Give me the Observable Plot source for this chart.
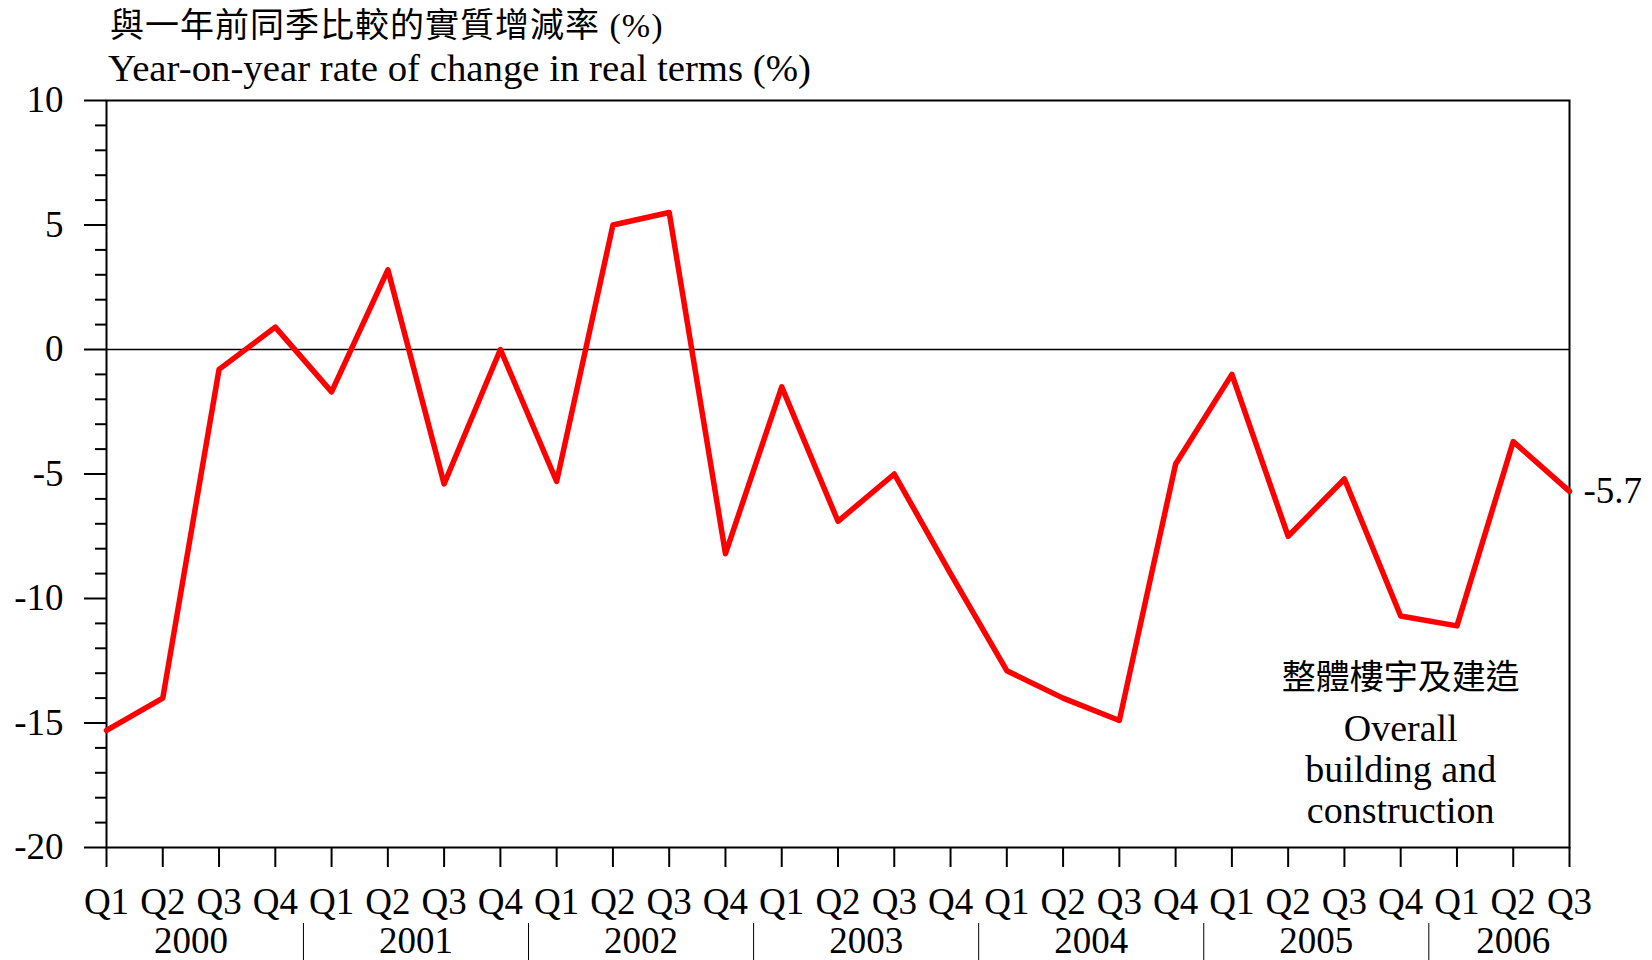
<!DOCTYPE html>
<html>
<head>
<meta charset="utf-8">
<script src="https://cdn.jsdelivr.net/npm/d3@7"></script>
<script src="https://cdn.jsdelivr.net/npm/@observablehq/plot@0.6"></script>
<style>
  html, body { margin: 0; padding: 0; background: #fff; }
  body { width: 1652px; height: 960px; overflow: hidden; font-family: "Liberation Serif", "Noto Sans CJK TC", serif; }
  #title { position: relative; height: 80px; width: 1652px; z-index: 2; }
  #title .zh { position: absolute; left: 110px; top: 6px; font-size: 34px; line-height: 40px; letter-spacing: 1px; font-family: "Liberation Serif", "Noto Sans CJK TC", serif; color: #000; white-space: nowrap; }
  #title .en { position: absolute; left: 108px; top: 46px; font-size: 38.8px; line-height: 44px; color: #000; white-space: nowrap; }
  #chart { position: relative; z-index: 1; }
</style>
</head>
<body>
<div id="title">
  <div class="zh">與一年前同季比較的實質增減率 (%)</div>
  <div class="en">Year-on-year rate of change in real terms (%)</div>
</div>
<div id="chart"></div>
<script>
const quarterLabels = ["Q1","Q2","Q3","Q4","Q1","Q2","Q3","Q4","Q1","Q2","Q3","Q4","Q1","Q2","Q3","Q4","Q1","Q2","Q3","Q4","Q1","Q2","Q3","Q4","Q1","Q2","Q3"];
const years = ["2000","2001","2002","2003","2004","2005","2006"];
const values = [-15.3, -14.0, -0.8, 0.9, -1.7, 3.2, -5.4, 0.0, -5.3, 5.0, 5.5, -8.2, -1.5, -6.9, -5.0, -9.0, -12.9, -14.0, -14.9, -4.6, -1.0, -7.5, -5.2, -10.7, -11.1, -3.7, -5.7];
const majorTicks = [-20, -15, -10, -5, 0, 5, 10];
const minorTicks = d3.range(-20, 11, 1).filter(d => d % 5 !== 0);
const seriesNameZh = "整體樓宇及建造";
const seriesNameEn = "Overall\nbuilding and\nconstruction";
const lastLabel = "-5.7";

const data = values.map((v, i) => ({i, v, q: quarterLabels[i]}));
const yearCenters = years.map((y, k) => {
  const idx = d3.range(quarterLabels.length).filter(i => Math.floor(i / 4) === k);
  return {year: y, x: d3.mean(idx)};
});
const separators = d3.range(1, years.length).map(k => k * 4 - 0.5);
const n = values.length;

const font = "'Liberation Serif', 'Noto Sans CJK TC', serif";

const chart = Plot.plot({
  width: 1652,
  height: 880,
  marginTop: 20,
  marginLeft: 106,
  marginRight: 83,
  marginBottom: 113,
  style: {background: "transparent", overflow: "visible", fontFamily: font, color: "#000"},
  x: {domain: [0, n - 1], axis: null},
  y: {domain: [-20, 10], axis: null},
  marks: [
    Plot.ruleY([0], {stroke: "#000", strokeWidth: 1.5}),
    Plot.axisY({ticks: minorTicks, tickSize: 11, tickFormat: () => "", label: null, strokeWidth: 2, stroke: "#000"}),
    Plot.axisY({ticks: majorTicks, tickSize: 22, tickPadding: 21, tickFormat: d => String(d), label: null, fontSize: 37, strokeWidth: 2, stroke: "#000", fill: "#000"}),
    Plot.axisX({ticks: d3.range(n), tickSize: 20, tickPadding: 20, tickFormat: i => quarterLabels[i], label: null, fontSize: 37, strokeWidth: 2, stroke: "#000", fill: "#000"}),
    Plot.ruleX(separators, {x: d => d, y1: -20, y2: -20, insetTop: 76, insetBottom: -113, stroke: "#000", strokeWidth: 1}),
    Plot.text(yearCenters, {x: "x", y: () => -20, text: "year", dy: 94, fontSize: 37, fill: "#000"}),
    Plot.frame({stroke: "#000", strokeWidth: 2}),
    Plot.line(data, {x: "i", y: "v", stroke: "#ff0000", strokeWidth: 5.5, strokeLinejoin: "round"}),
    Plot.text([data[n - 1]], {x: "i", y: "v", text: () => lastLabel, textAnchor: "start", dx: 14, fontSize: 37, fill: "#000"}),
    Plot.text([seriesNameZh], {x: () => 23, y: () => -13.2, text: d => d, fontSize: 34, fill: "#000"}),
    Plot.text([seriesNameEn], {x: () => 23, y: () => -16.85, text: d => d, fontSize: 38, lineHeight: 1.08, fill: "#000"})
  ]
});
document.getElementById("chart").appendChild(chart);
</script>
</body>
</html>
